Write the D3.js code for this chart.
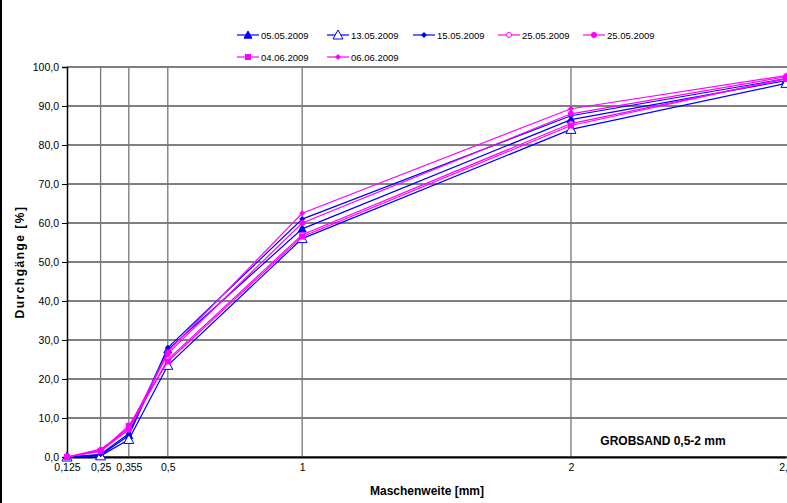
<!DOCTYPE html>
<html>
<head>
<meta charset="utf-8">
<script src="https://cdn.jsdelivr.net/npm/d3@7"></script>
<style>
  body { margin: 0; background: #fff; }
  text { font-family: "Liberation Sans", Arial, sans-serif; }
</style>
</head>
<body>
<div id="chart"></div>
<script>
// sieve sizes [mm]
const sizes = [0.125, 0.25, 0.355, 0.5, 1, 2, 2.8]
const xTickLabels = ["0,125", "0,25", "0,355", "0,5", "1", "2", "2,8"]
const yTicks = [0, 10, 20, 30, 40, 50, 60, 70, 80, 90, 100]

const dates = ["05.05.2009", "13.05.2009", "15.05.2009", "25.05.2009", "25.05.2009", "04.06.2009", "06.06.2009"]
const colors = ["#0000ff", "#0000ff", "#0000ff", "#ff00ff", "#ff00ff", "#ff00ff", "#ff00ff"]
const markers = ["triFill", "triOpen", "diamond", "circOpen", "circFill", "square", "dot"]

const s0505 = [0, 0.5, 5.5, 27.5, 58.5, 86.5, 96.5]
const s1305 = [0, 0.3, 4.5, 23.5, 56, 84, 95.8]
const s1505 = [0, 0.7, 6, 28, 61, 87.5, 97]
const s2505a = [0, 1.5, 7, 25, 57, 85.5, 97]
const s2505b = [0, 1.8, 7.5, 26.5, 60, 88, 97.5]
const s0406 = [0, 1.5, 8, 24.5, 56.5, 85, 97]
const s0606 = [0, 2, 7, 27, 62.5, 89.3, 97.8]
const series = [s0505, s1305, s1505, s2505a, s2505b, s0406, s0606]

const W = 787, H = 503
const svg = d3.select("#chart").append("svg")
  .attr("width", W)
  .attr("height", H)

const x = d3.scaleLinear().domain([0.125, 2.8]).range([67, 786])
const y = d3.scaleLinear().domain([0, 100]).range([457, 67])

// outer frame edge on the left
svg.append("line")
  .attr("x1", 1).attr("x2", 1).attr("y1", 0).attr("y2", H)
  .style("stroke", "#000").style("stroke-width", 2)

// horizontal grid
svg.append("g")
  .selectAll("line")
  .data(yTicks)
  .enter()
  .append("line")
    .attr("x1", x(0.125)).attr("x2", W)
    .attr("y1", d => y(d)).attr("y2", d => y(d))
    .style("stroke", "#000").style("stroke-width", 1)

// vertical grid
svg.append("g")
  .selectAll("line")
  .data(sizes.slice(1, 6))
  .enter()
  .append("line")
    .attr("x1", d => x(d)).attr("x2", d => x(d))
    .attr("y1", y(100)).attr("y2", y(0))
    .style("stroke", "#777").style("stroke-width", 1.3)

// y axis
const yAxis = d3.axisLeft(y).tickValues(yTicks).tickSize(5).tickPadding(3)
  .tickFormat(d => d3.format(".1f")(d).replace(".", ","))
const gy = svg.append("g").attr("transform", `translate(${x(0.125)},0)`).call(yAxis)
  .attr("font-family", null)
gy.select(".domain").style("stroke", "#000").style("stroke-width", 1.5)
gy.selectAll("text").style("font-size", "10.5px").attr("fill", "#000")
gy.selectAll(".tick line").style("stroke", "#000")

// x axis
const xAxis = d3.axisBottom(x).tickValues(sizes).tickSize(0).tickPadding(7)
  .tickFormat((d, i) => xTickLabels[i])
const gx = svg.append("g").attr("transform", `translate(0,${y(0)})`).call(xAxis)
  .attr("font-family", null)
gx.select(".domain").style("stroke", "#000").style("stroke-width", 2)
gx.selectAll("text").style("font-size", "10.5px").attr("fill", "#000")

// axis titles
svg.append("text")
  .attr("transform", `translate(24,${(y(0) + y(100)) / 2}) rotate(-90)`)
  .attr("text-anchor", "middle")
  .style("font-size", "12px").style("font-weight", "bold").style("letter-spacing", "1.5px")
  .text("Durchgänge [%]")

svg.append("text")
  .attr("x", 427).attr("y", 495)
  .attr("text-anchor", "middle")
  .style("font-size", "12px").style("font-weight", "bold")
  .text("Maschenweite [mm]")

svg.append("text")
  .attr("x", 663).attr("y", 445)
  .attr("text-anchor", "middle")
  .style("font-size", "12px").style("font-weight", "bold")
  .text("GROBSAND 0,5-2 mm")

function drawMarker(g, type, c) {
  if (type === "triFill" || type === "triOpen") {
    const s = type === "triOpen" ? 5 : 4
    g.append("path").attr("d", `M0,${-s}L${s},${s * 0.8}L${-s},${s * 0.8}Z`)
      .style("fill", type === "triOpen" ? "#fff" : c).style("stroke", c).style("stroke-width", 1)
  } else if (type === "diamond") {
    g.append("path").attr("d", "M0,-3L3,0L0,3L-3,0Z").style("fill", c)
  } else if (type === "circOpen") {
    g.append("circle").attr("r", 2.5).style("fill", "#fff").style("stroke", c)
  } else if (type === "circFill") {
    g.append("circle").attr("r", 3).style("fill", c)
  } else if (type === "square") {
    g.append("rect").attr("x", -3).attr("y", -3).attr("width", 6).attr("height", 6).style("fill", c)
  } else {
    g.append("path").attr("d", "M0,-3L3,0L0,3L-3,0Z").style("fill", c)
  }
}

const line = d3.line().x((d, i) => x(sizes[i])).y(d => y(d))

series.forEach((s, k) => {
  const g = svg.append("g")
  g.append("path")
    .datum(s)
    .attr("d", line)
    .style("fill", "none")
    .style("stroke", colors[k])
    .style("stroke-width", 1.2)
  g.selectAll("g")
    .data(s)
    .enter()
    .append("g")
      .attr("transform", (d, i) => `translate(${x(sizes[i])},${y(d)})`)
      .each(function () { drawMarker(d3.select(this), markers[k], colors[k]) })
})

// legend
const legX = [237, 327, 413, 498, 583, 237, 327]
const legY = [35, 35, 35, 35, 35, 57, 57]
dates.forEach((d, k) => {
  const g = svg.append("g").attr("transform", `translate(${legX[k]},${legY[k]})`)
  g.append("line").attr("x1", 0).attr("x2", 22).attr("y1", 0).attr("y2", 0)
    .style("stroke", colors[k]).style("stroke-width", 1.2)
  drawMarker(g.append("g").attr("transform", "translate(11,0)"), markers[k], colors[k])
  g.append("text").attr("x", 24).attr("y", 3.5)
    .style("font-size", "9.5px").text(d)
})
</script>
</body>
</html>
